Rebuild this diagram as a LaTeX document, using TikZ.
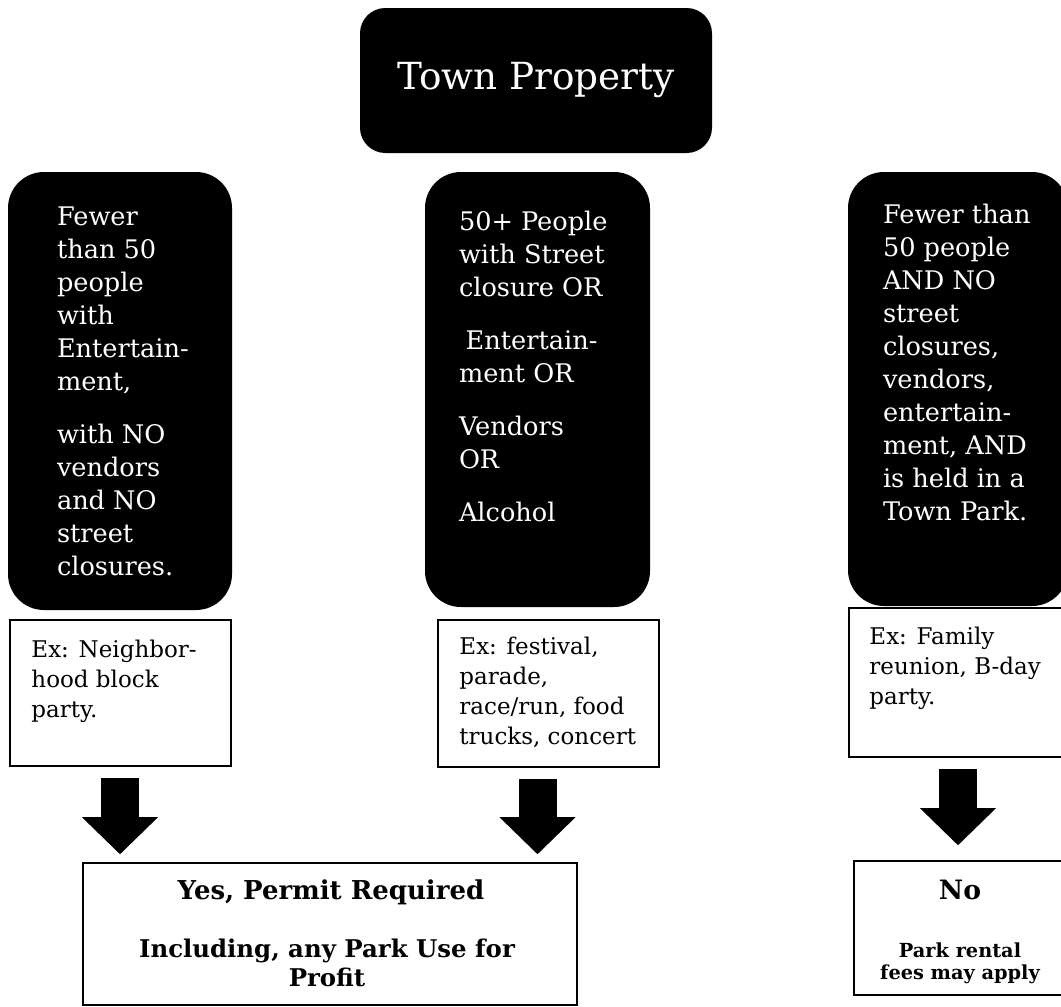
\documentclass[tikz,border=0pt]{standalone}
\usepackage{fontspec}
\setmainfont{DejaVu Serif}
\usetikzlibrary{positioning, calc, arrows.meta}

\tikzset{
  darkbox/.style={fill=black, rounded corners=27pt, inner sep=0pt},
  exbox/.style={draw=black, line width=1.2pt, inner sep=0pt},
  condtext/.style={text=white, align=left, inner sep=0pt, anchor=north west, font=\fontsize{19.2}{24.75}\selectfont},
  extext/.style={align=left, inner sep=0pt, anchor=north west, font=\fontsize{17.25}{22.5}\selectfont},
  bigarrow/.style={line width=28.5pt, -{Triangle[width=57pt,length=27.75pt,line width=0pt]}},
}
\newcommand{\firstline}{\rule{0pt}{15pt}}

\begin{document}
\begin{tikzpicture}[x=0.75pt, y=-0.75pt]
\useasboundingbox (0,0) rectangle (1061,1007);

% top box
\node[fill=black, rounded corners=19pt, minimum width=264pt, minimum height=108.75pt,
      text=white, font=\fontsize{28}{34}\selectfont] (town) at (536,80.5) {Town Property};

% condition boxes
\node[darkbox, minimum width=168pt, minimum height=328.5pt] (lbox) at (120,391) {};
\node[darkbox, minimum width=168.75pt, minimum height=326.25pt] (mbox) at (537.5,389.5) {};
\node[darkbox, minimum width=165pt, minimum height=325.5pt] (rbox) at (958,389) {};

\node[condtext] (ltext) at ($(lbox.north west)+(49,33)$)
  {\firstline Fewer\\than 50\\people\\with\\Entertain-\\ment,\\[15pt]with NO\\vendors\\and NO\\street\\closures.};
\node[condtext] (mtext) at ($(mbox.north west)+(34,38)$)
  {\firstline 50+ People\\with Street\\closure OR\\[15pt]\hspace{5pt}Entertain-\\ment OR\\[15pt]Vendors\\OR\\[15pt]Alcohol};
\node[condtext] (rtext) at ($(rbox.north west)+(35,31)$)
  {\firstline Fewer than\\50 people\\AND NO\\street\\closures,\\vendors,\\entertain-\\ment, AND\\is held in a\\Town Park.};

% examples
\node[exbox, minimum width=165.75pt, minimum height=109.5pt] (lex) at (120.5,693) {};
\node[exbox, minimum width=165.75pt, minimum height=110.25pt] (mex) at (548.5,693.5) {};
\node[exbox, minimum width=165.75pt, minimum height=111.75pt] (rex) at (959.5,682.5) {};

\node[extext] (lextext) at ($(lex.north west)+(22,18)$) {\firstline Ex: Neighbor-\\hood block\\party.};
\node[extext] (mextext) at ($(mex.north west)+(22,15)$) {\firstline Ex: festival,\\parade,\\race/run, food\\trucks, concert};
\node[extext] (rextext) at ($(rex.north west)+(21,17)$) {\firstline Ex: Family\\reunion, B-day\\party.};

% results
\node[exbox, minimum width=370.5pt, minimum height=106.5pt] (yes) at (330,934) {};
\node[exbox, minimum width=159pt, minimum height=100.5pt] (no) at (960,928) {};

\node[anchor=base, inner sep=0pt, font=\bfseries\fontsize{19.5}{23}\selectfont] (yestitle)
  at ($(yes.north)+(1,37)$) {Yes, Permit Required};
\node[anchor=north, inner sep=0pt, align=center, font=\bfseries\fontsize{18.3}{21.75}\selectfont] (yesnote)
  at ($(yes.north)+(-3,75)$) {\firstline Including, any Park Use for\\Profit};
\node[anchor=base, inner sep=0pt, font=\bfseries\fontsize{20}{24}\selectfont] (notitle)
  at ($(no.north)+(0,39)$) {No};
\node[anchor=north, inner sep=0pt, align=center, font=\bfseries\fontsize{14.5}{16.5}\selectfont] (nonote)
  at ($(no.north)+(0,77)$) {\firstline Park rental\\fees may apply};

% arrows
\foreach \col/\ex/\res/\gap in {lbox/lex/yes/8, mbox/mex/yes/8, rbox/rex/no/15}
  \draw[bigarrow] ($(\col.south |- \ex.south)+(0,11)$) -- ($(\col.south |- \res.north)+(0,-\gap)$);
\end{tikzpicture}
\end{document}
